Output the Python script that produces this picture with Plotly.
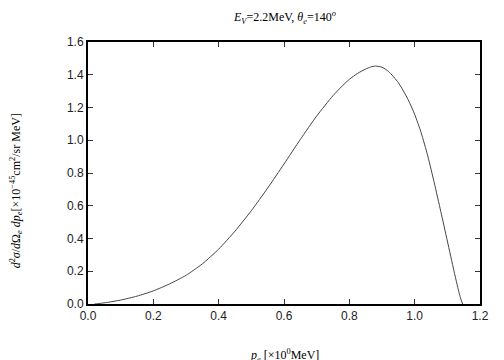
import plotly.graph_objects as go

p_e = [0.02, 0.03, 0.06, 0.10, 0.15, 0.20, 0.25, 0.30, 0.35, 0.40, 0.45, 0.50,
       0.55, 0.60, 0.65, 0.70, 0.75, 0.775, 0.80, 0.825, 0.85, 0.865, 0.88, 0.90,
       0.92, 0.95, 0.98, 1.00, 1.02, 1.04, 1.06, 1.08, 1.10, 1.12, 1.13, 1.14, 1.147]
dsigma = [0.0, 0.002, 0.010, 0.024, 0.048, 0.080, 0.123, 0.175, 0.245, 0.335,
          0.445, 0.570, 0.708, 0.855, 1.005, 1.148, 1.272, 1.325, 1.372, 1.408,
          1.435, 1.447, 1.453, 1.446, 1.420, 1.352, 1.248, 1.158, 1.045, 0.905,
          0.740, 0.565, 0.385, 0.205, 0.118, 0.038, 0.0]

xticks = [0.0, 0.2, 0.4, 0.6, 0.8, 1.0, 1.2]
yticks = [0.0, 0.2, 0.4, 0.6, 0.8, 1.0, 1.2, 1.4, 1.6]

fig = go.Figure()
fig.add_trace(go.Scatter(x=p_e, y=dsigma, mode="lines",
                         line=dict(color="#444444", width=1, shape="spline", smoothing=0.6),
                         showlegend=False, hoverinfo="skip"))

axis_common = dict(showgrid=False, zeroline=False, showline=True, linecolor="black", linewidth=2,
                   mirror="ticks", ticks="inside", ticklen=5, tickwidth=1, tickcolor="#333333",
                   tickfont=dict(family="Liberation Sans, Arial, sans-serif", size=12, color="#222222"))

fig.update_xaxes(range=[0, 1.2], tickvals=xticks, ticktext=[f"{v:.1f}" for v in xticks], **axis_common)
fig.update_yaxes(range=[0, 1.6], tickvals=yticks, ticktext=[f"{v:.1f}" for v in yticks], **axis_common)

serif = dict(family="Liberation Serif, Times New Roman, serif", size=12, color="black")

fig.update_layout(
    width=504, height=360,
    margin=dict(l=88, r=24, t=42, b=56),
    paper_bgcolor="white", plot_bgcolor="white",
    annotations=[
        dict(text="<i>E</i><sub><i>V</i></sub>=2.2MeV, <i>θ</i><sub><i>e</i></sub>=140<sup><i>o</i></sup>",
             xref="paper", yref="paper", x=0.5, y=1.0, yshift=14, xanchor="center", yanchor="bottom",
             showarrow=False, font=serif),
        dict(text="<i>d</i><sup>2</sup><i>σ</i>/<i>d</i>Ω<sub><i>e</i></sub> <i>dp</i><sub><i>e</i></sub>[×10<sup>−45</sup>cm<sup>2</sup>/sr MeV]",
             xref="paper", yref="paper", x=0, xshift=-72, y=0.43, xanchor="center", yanchor="middle",
             textangle=-90, showarrow=False, font=serif),
        dict(text="<i>p</i><sub><i>e</i></sub> [×10<sup>0</sup>MeV]",
             xref="paper", yref="paper", x=0.5, y=0, yshift=-62, xanchor="center", yanchor="bottom",
             showarrow=False, font=serif),
    ],
)

fig.write_html("out.html", config={"displayModeBar": False},
               post_script="document.body.style.margin='0';")
